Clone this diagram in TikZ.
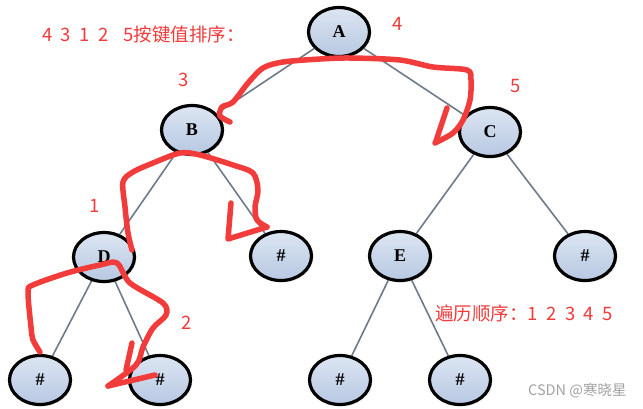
\documentclass[tikz,border=0pt]{standalone}
\usepackage{fontspec}
\setmainfont{Liberation Serif}
\newfontfamily\cjk{Noto Sans CJK SC}
\usetikzlibrary{shapes.geometric,backgrounds,shadows}
\definecolor{treeedge}{HTML}{6E7B8B}
\definecolor{treetop}{HTML}{DCE5F2}
\definecolor{treebot}{HTML}{B7C8E2}
\definecolor{notered}{HTML}{F23B3B}
\definecolor{markgray}{HTML}{A3A3A3}
\tikzset{
  tnode/.style={ellipse, draw=black, line width=3.2pt, minimum width=61pt,
    minimum height=49pt, inner sep=0pt, top color=treetop, bottom color=treebot,
    font=\fontsize{18}{18}\selectfont\bfseries,
    drop shadow={shadow xshift=2pt, shadow yshift=-2pt, opacity=0.12}},
  tedge/.style={draw=treeedge, line width=1.6pt},
  note/.style={text=notered, font=\cjk\fontsize{18.5}{20}\selectfont, inner sep=0pt},
  scribble/.style={draw=notered, line width=5.5pt, line cap=round, line join=round},
}
\newcommand{\gap}{\hspace{8.5pt}}

\begin{document}
\begin{tikzpicture}[x=1pt, y=-1pt]
% tree
\node[tnode] (A) at (339,32) {A};
\node[tnode] (B) at (192,130) {B};
\node[tnode] (C) at (490,132) {C};
\node[tnode] (D) at (104,257) {D};
\node[tnode] (Bh) at (281,256) {\#};
\node[tnode] (E) at (400,256) {E};
\node[tnode] (Ch) at (585,256) {\#};
\node[tnode] (Dl) at (40,380) {\#};
\node[tnode] (Dr) at (160,380) {\#};
\node[tnode] (El) at (340,380) {\#};
\node[tnode] (Er) at (460,380) {\#};
\begin{scope}[on background layer]
  \path[use as bounding box, fill=white] (0,0) rectangle (643,408);
  \draw[tedge] (A) -- (B);
  \draw[tedge] (A) -- (C);
  \draw[tedge] (B) -- (D);
  \draw[tedge] (B) -- (Bh);
  \draw[tedge] (C) -- (E);
  \draw[tedge] (C) -- (Ch);
  \draw[tedge] (D) -- (Dl);
  \draw[tedge] (D) -- (Dr);
  \draw[tedge] (E) -- (El);
  \draw[tedge] (E) -- (Er);
\end{scope}
% notes
\node[note, anchor=west] (keys) at (42,34)
  {4\gap 3\gap 1\gap 2\gap\hspace{6pt}5按键值排序：};
\node[note] (k4) at (398,24) {4};
\node[note] (k3) at (184,80) {3};
\node[note] (k5) at (516,86) {5};
\node[note] (k1) at (95,206) {1};
\node[note] (k2) at (187,323) {2};
\node[note, anchor=west] (order) at (435,313)
  {遍历顺序：1\gap 2\gap 3\gap 4\gap 5};
\node[text=markgray, font=\cjk\fontsize{14.5}{15}\selectfont, inner sep=0pt, anchor=west]
  (mark) at (528,391) {CSDN @寒晓星};
% hand-drawn arrows
\draw[scribble] plot[smooth, tension=0.5] coordinates {(230,122) (220,116) (222,107) (233,102)
  (248,83) (263,68) (283,62) (320,59) (350,58) (400,60) (433,67) (467,70) (471,80)
  (470,100) (463,120) (453,133) (435,143)};
\draw[scribble] (447,108) -- (436,141);
\draw[scribble] plot[smooth, tension=0.5] coordinates {(132,250) (128,233) (125,207) (123,182)
  (133,172) (153,163) (180,153) (200,155) (233,165) (253,173) (258,190) (255,207)
  (257,220) (267,227)};
\draw[scribble] (267,227) -- (228,239) -- (231,203);
\draw[scribble] plot[smooth, tension=0.5] coordinates {(40,352) (33,340) (31,327) (28,292)
  (33,285) (67,273) (100,265) (117,263) (130,283) (163,303) (166,315) (153,328)
  (143,347) (136,365) (108,386)};
\draw[scribble] (108,386) -- (155,375);
\draw[scribble] (132,343) -- (126,370);
\end{tikzpicture}
\end{document}
